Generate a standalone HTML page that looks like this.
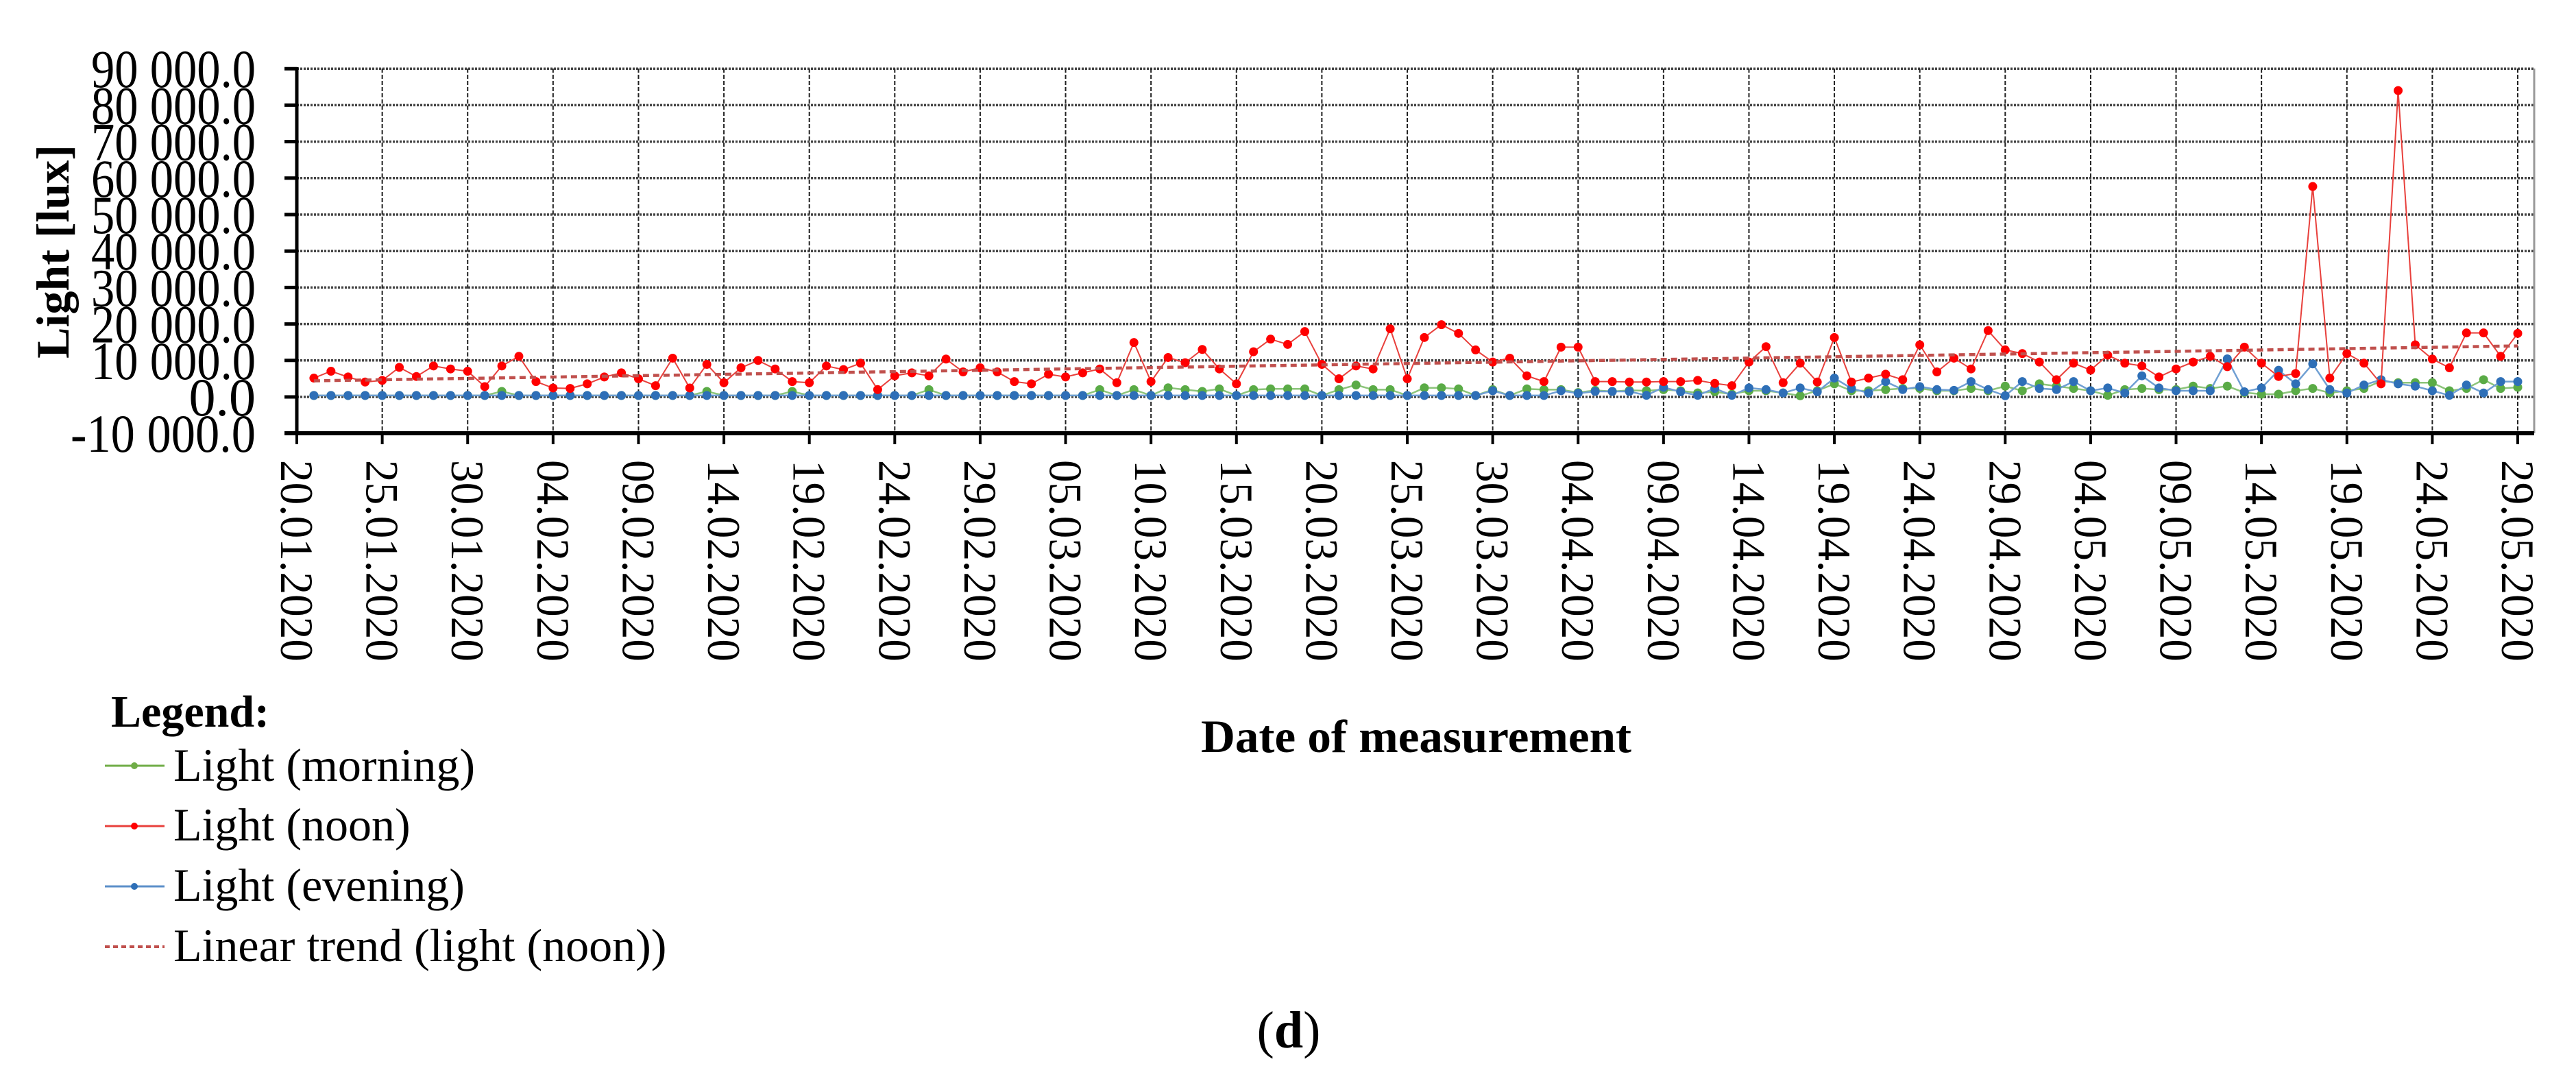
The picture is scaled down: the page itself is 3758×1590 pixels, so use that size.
<!DOCTYPE html>
<html><head><meta charset="utf-8"><style>
html,body{margin:0;padding:0;background:#fff;}
svg{display:block;font-family:"Liberation Serif",serif;}
</style></head><body>
<svg id="chart" width="3758" height="1590" viewBox="0 0 3758 1590" xmlns="http://www.w3.org/2000/svg">
<g id="grid"></g>
<g id="yaxis"></g>
<g id="xaxis"></g>
<g id="series"></g>
<text transform="translate(100,367) rotate(-90)" text-anchor="middle" font-size="68" font-weight="bold">Light [lux]</text>
<text x="2066" y="1097" text-anchor="middle" font-size="68" font-weight="bold" textLength="628" lengthAdjust="spacingAndGlyphs">Date of measurement</text>
<text x="1880" y="1528" text-anchor="middle" font-size="76">(<tspan font-weight="bold">d</tspan>)</text>
<g>
<text x="162" y="1060" font-size="66" font-weight="bold">Legend:</text>
<g><line x1="153" y1="1117" x2="240" y2="1117" stroke="#70ad47" stroke-width="3"/><circle cx="196" cy="1117" r="5" fill="#70ad47"/><text x="253" y="1139" font-size="68">Light (morning)</text></g>
<g><line x1="153" y1="1205" x2="240" y2="1205" stroke="#e8403c" stroke-width="3"/><circle cx="196" cy="1205" r="5" fill="#ff0000"/><text x="253" y="1226" font-size="68">Light (noon)</text></g>
<g><line x1="153" y1="1293" x2="240" y2="1293" stroke="#5b8fc9" stroke-width="3"/><circle cx="196" cy="1293" r="5" fill="#2e6fb7"/><text x="253" y="1314" font-size="68">Light (evening)</text></g>
<g><line x1="153" y1="1381" x2="240" y2="1381" stroke="#c0504d" stroke-width="4" stroke-dasharray="7,5"/><text x="253" y="1402" font-size="68">Linear trend (light (noon))</text></g>
</g>
</svg>
<script>
const yTicks=[-10000,0,10000,20000,30000,40000,50000,60000,70000,80000,90000];
const yTickLabels=["-10 000.0","0.0","10 000.0","20 000.0","30 000.0","40 000.0","50 000.0","60 000.0","70 000.0","80 000.0","90 000.0"];
const xTickLabels=["20.01.2020","25.01.2020","30.01.2020","04.02.2020","09.02.2020","14.02.2020","19.02.2020","24.02.2020","29.02.2020","05.03.2020","10.03.2020","15.03.2020","20.03.2020","25.03.2020","30.03.2020","04.04.2020","09.04.2020","14.04.2020","19.04.2020","24.04.2020","29.04.2020","04.05.2020","09.05.2020","14.05.2020","19.05.2020","24.05.2020","29.05.2020"];
const noon=[5160,7040,5470,4090,4530,8110,5600,8490,7670,7040,2830,8490,11130,4210,2450,2330,3590,5470,6600,4970,3080,10630,2450,8930,3900,7990,
10000,7670,4210,3900,8490,7490,9250,2010,5790,6600,5790,10380,6860,7990,6860,4210,3590,6230,5470,6600,7670,3900,14910,4210,10820,9370,
13020,7670,3590,12390,15850,14400,17930,8930,4970,8490,7670,18680,4970,16290,19810,17420,12890,9560,10630,5790,4210,13650,13650,4210,4210,4090,
4090,4210,4210,4530,3710,3080,9560,13780,3900,9250,4090,16290,4090,5160,6230,4720,14280,6860,10630,7670,18180,12890,11890,9560,4720,9250,
7360,11450,9250,8490,5470,7670,9560,11130,8300,13650,9250,5600,6420,57700,5160,11890,9250,3590,84000,14280,10380,7990,17550,17550,11130,17420];
const morning=[400,400,400,400,400,400,400,400,400,400,400,1500,400,400,400,400,400,400,400,400,400,400,400,1500,400,400,
400,400,1500,400,400,400,400,400,400,400,2000,400,400,400,400,400,400,400,400,400,2000,400,2000,400,2500,2000,
1500,2200,400,2000,2200,2200,2200,400,2000,3270,2000,2000,400,2500,2500,2200,400,2000,400,2200,2000,2000,1200,1800,1500,1800,
1700,2000,1700,1100,1400,760,1700,1700,1100,320,1700,3590,1700,1700,2000,2330,2330,1700,1700,2330,1700,2960,1700,3590,2960,2330,
1700,440,2000,2330,2000,2000,2960,2330,2960,1200,760,760,1700,2330,1100,1700,2330,4340,3900,3900,3900,1700,2330,4720,2330,2640];
const evening=[400,400,400,400,400,400,400,400,400,400,400,400,400,400,400,400,400,400,400,400,400,400,400,400,400,400,
400,400,400,400,400,400,400,400,400,400,400,400,400,400,400,400,400,400,400,400,400,400,400,400,400,400,
400,400,400,400,400,400,400,400,400,400,400,400,400,400,400,400,400,1700,400,400,400,1700,1000,1500,1500,1500,
440,2640,1400,440,2330,440,2460,2010,1070,2460,1400,5160,2330,1070,4210,2010,2830,2010,1820,4210,2010,320,4210,2330,2010,4210,
1700,2460,1070,5790,2460,1700,1700,1700,10440,1400,2460,7300,3590,9060,2010,1070,3270,4720,3590,2960,1700,440,3270,1070,4210,4210];

const L=433,R=3673,RB=3697,T=100,B=632,Y0=579;
const pxPer10k=53.2;
function yS(v){return Y0-v/10000*pxPer10k;}
const nDays=130;
function xS(d){return L+d*(R-L)/nDays;}
const NS="http://www.w3.org/2000/svg";
function mk(tag,parent,attrs){const e=document.createElementNS(NS,tag);for(const k in attrs)e.setAttribute(k,attrs[k]);parent.appendChild(e);return e;}
const grid=document.getElementById('grid'),yax=document.getElementById('yaxis'),xax=document.getElementById('xaxis'),ser=document.getElementById('series');

yTicks.forEach((v,i)=>{
  const y=yS(v);
  if(v!==-10000){const g=mk('line',grid,{x1:L,y1:y,x2:RB,y2:y,stroke:'#444','stroke-width':3.5,'stroke-dasharray':'3,2'});
  
  }
  const tk=mk('line',yax,{x1:415,y1:y,x2:L,y2:y,stroke:'#000','stroke-width':5});
  
  
  const lab=yTickLabels[i];
  const attrs={x:373,y:y+27,'text-anchor':'end','font-size':78};
  if(lab.length>5){attrs.textLength=Math.round(lab.length*30);attrs.lengthAdjust='spacingAndGlyphs';}
  const t=mk('text',yax,attrs);
  
  
  t.textContent=lab;
});
xTickLabels.forEach((lab,i)=>{
  const x=xS(i*5);
  if(i>0){const g=mk('line',grid,{x1:x,y1:T,x2:x,y2:B,stroke:'#222','stroke-width':2,'stroke-dasharray':'6,3'});
  
  }
  const tk=mk('line',xax,{x1:x,y1:B,x2:x,y2:648,stroke:'#000','stroke-width':4});
  
  
  const t=mk('text',xax,{x:x,y:671,transform:`rotate(90 ${x} 671)`,'font-size':68,'dominant-baseline':'central','textLength':294,'lengthAdjust':'spacingAndGlyphs'});
  
  
  t.textContent=lab;
});
const rb=mk('line',grid,{x1:RB,y1:T,x2:RB,y2:B,stroke:'#999','stroke-width':3});


const ya=mk('line',yax,{x1:L,y1:T-2,x2:L,y2:B+2,stroke:'#000','stroke-width':5});


const xa=mk('line',xax,{x1:L-18,y1:B,x2:RB,y2:B,stroke:'#000','stroke-width':6});



function drawSeries(data,line,dot,name,lw){
  const g=mk('g',ser,{});
  
  
  const pts=data.map((v,i)=>xS(i+1).toFixed(1)+','+yS(v).toFixed(1)).join(' ');
  const pl=mk('polyline',g,{points:pts,fill:'none',stroke:line,'stroke-width':lw});
  
  
  data.forEach((v,i)=>{const c=mk('circle',g,{cx:xS(i+1),cy:yS(v),r:6.5,fill:dot});
    
    });
}
drawSeries(morning,'#8cc47a','#5aab46','morning',2.5);
drawSeries(evening,'#6f9fd3','#2e6fb7','evening',2.5);
drawSeries(noon,'#e8403c','#ff0000','noon',2);
let n=noon.length,sx=0,sy=0,sxx=0,sxy=0;
noon.forEach((v,i)=>{const x=i+1;sx+=x;sy+=v;sxx+=x*x;sxy+=x*v;});
const slope=(n*sxy-sx*sy)/(n*sxx-sx*sx),icpt=(sy-slope*sx)/n;
const tr=mk('line',ser,{x1:xS(1),y1:yS(icpt+slope),x2:xS(n),y2:yS(icpt+slope*n),stroke:'#c0504d','stroke-width':4.5,'stroke-dasharray':'9,6'});


</script>
</body></html>
